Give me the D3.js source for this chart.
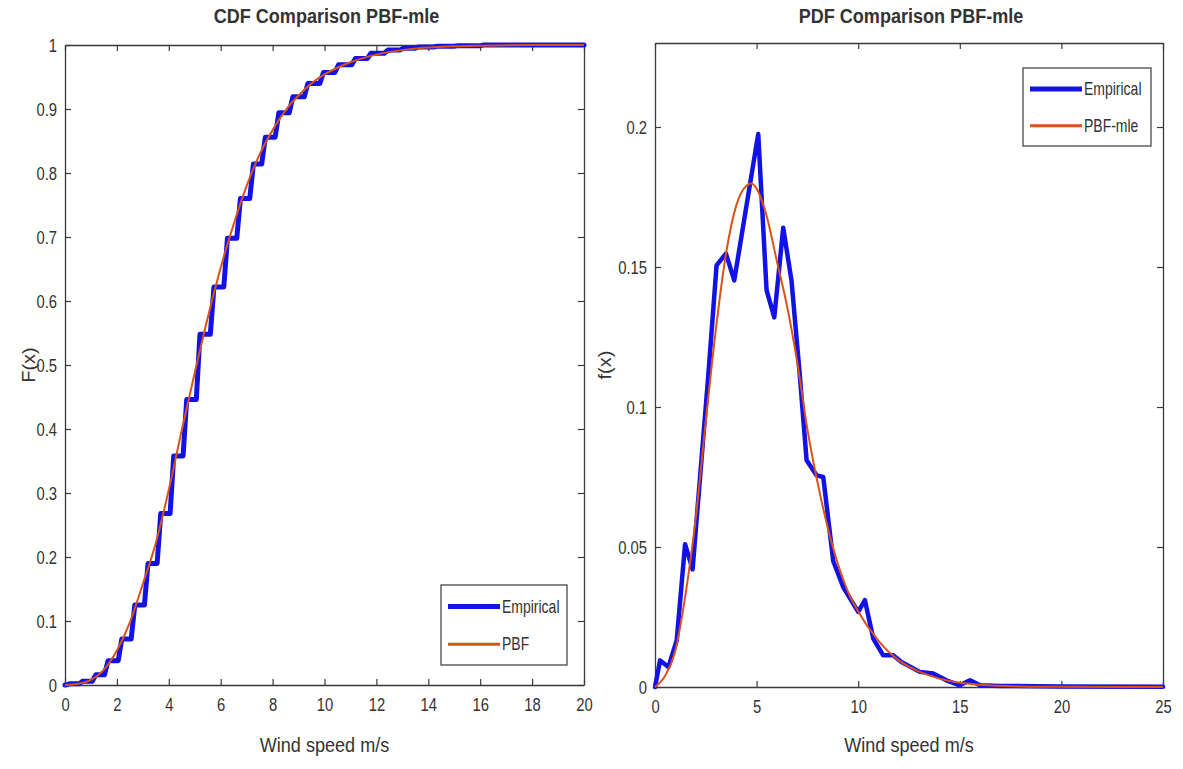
<!DOCTYPE html>
<html>
<head>
<meta charset="utf-8">
<script src="https://cdn.jsdelivr.net/npm/d3@7"></script>
<style>
  html, body { margin: 0; padding: 0; background: #fff; }
  svg { display: block; }
  text { font-family: "Liberation Sans", Arial, Helvetica, sans-serif; fill: #333; }
</style>
</head>
<body>
<svg id="chart" width="1183" height="769"></svg>
<script>
// Empirical CDF: wind speed where each step occurs and the level reached after it
const cdfStepX = [0.05, 0.55, 1.05, 1.52, 2.05, 2.55, 3.06, 3.55, 4.05, 4.55, 5.06, 5.60, 6.12, 6.62, 7.12, 7.58, 8.10, 8.64, 9.22, 9.82, 10.40, 11.05, 11.65, 12.30, 12.90, 13.50, 14.20, 15.00, 16.00];
const cdfStepF = [0.002, 0.006, 0.016, 0.038, 0.072, 0.125, 0.190, 0.268, 0.358, 0.446, 0.548, 0.622, 0.698, 0.760, 0.814, 0.856, 0.894, 0.919, 0.940, 0.957, 0.969, 0.979, 0.987, 0.992, 0.995, 0.997, 0.998, 0.999, 1.000];

// Fitted PBF CDF
const pbfCdfX = [0, 0.5, 1, 1.5, 2, 2.5, 3, 3.5, 4, 4.5, 5, 5.5, 6, 6.5, 7, 7.5, 8, 8.5, 9, 9.5, 10, 11, 12, 13, 14, 15, 16, 18, 20];
const pbfCdfF = [0, 0.002, 0.008, 0.024, 0.054, 0.098, 0.158, 0.222, 0.305, 0.398, 0.488, 0.574, 0.652, 0.720, 0.780, 0.829, 0.867, 0.898, 0.921, 0.940, 0.954, 0.973, 0.985, 0.992, 0.996, 0.998, 0.999, 1.000, 1.000];

// Empirical PDF
const empPdfX = [0, 0.25, 0.66, 1.07, 1.48, 1.85, 2.62, 3.03, 3.49, 3.90, 5.08, 5.49, 5.87, 6.31, 6.72, 7.13, 7.46, 7.95, 8.28, 8.77, 9.26, 10.0, 10.33, 10.74, 11.23, 11.72, 12.13, 13.03, 13.69, 14.34, 15.0, 15.5, 16.0, 17.0, 20.0, 25.0];
const empPdfY = [0, 0.0095, 0.0071, 0.0167, 0.051, 0.042, 0.111, 0.1506, 0.1548, 0.1452, 0.1975, 0.1417, 0.132, 0.164, 0.145, 0.111, 0.081, 0.0756, 0.075, 0.045, 0.0357, 0.0268, 0.031, 0.0173, 0.0113, 0.0113, 0.0089, 0.0054, 0.0048, 0.0024, 0.0006, 0.0024, 0.0006, 0.0004, 0.0002, 0.0001];

// Fitted PBF-mle PDF
const pbfPdfX = [0, 0.5, 1, 1.5, 2, 2.5, 3, 3.5, 4, 4.5, 4.75, 5, 5.5, 6, 6.5, 7, 7.5, 8, 8.5, 9, 9.5, 10, 11, 12, 13, 14, 15, 16, 18, 20, 25];
const pbfPdfY = [0, 0.004, 0.013, 0.033, 0.060, 0.095, 0.128, 0.155, 0.172, 0.179, 0.1798, 0.178, 0.168, 0.152, 0.136, 0.116, 0.092, 0.073, 0.057, 0.044, 0.034, 0.027, 0.0165, 0.0095, 0.0055, 0.003, 0.0015, 0.0008, 0.0002, 0.00005, 0];

// Tick values
const cdfXTicks = [0, 2, 4, 6, 8, 10, 12, 14, 16, 18, 20];
const cdfYTicks = [0, 0.1, 0.2, 0.3, 0.4, 0.5, 0.6, 0.7, 0.8, 0.9, 1];
const pdfXTicks = [0, 5, 10, 15, 20, 25];
const pdfYTicks = [0, 0.05, 0.1, 0.15, 0.2];

const BLUE = "#1212e6";
const ORANGE = "#D95319";
const AXIS = "#3a3a3a";

const svg = d3.select("#chart");
svg.append("rect").attr("width", 1183).attr("height", 769).attr("fill", "#fff");

const fmt = d3.format("~g");

function drawPanel(cfg) {
  const g = svg.append("g");
  const x = d3.scaleLinear().domain(cfg.xDomain).range([cfg.left, cfg.right]);
  const y = d3.scaleLinear().domain(cfg.yDomain).range([cfg.bottom, cfg.top]);

  const styleAxis = sel => {
    sel.selectAll("path.domain").attr("stroke", AXIS).attr("stroke-width", 1.3);
    sel.selectAll(".tick line").attr("stroke", AXIS).attr("stroke-width", 1.2);
    sel.selectAll(".tick text")
      .attr("fill", "#3a3a3a")
      .style("font-size", "19px")
      .style("font-family", '"Liberation Sans", Arial, sans-serif');
  };

  g.append("g").attr("transform", `translate(0,${cfg.bottom})`)
    .call(d3.axisBottom(x).tickValues(cfg.xTicks).tickFormat(fmt).tickSizeInner(-6).tickSizeOuter(0).tickPadding(13))
    .call(styleAxis);
  g.append("g").attr("transform", `translate(0,${cfg.top})`)
    .call(d3.axisTop(x).tickValues(cfg.xTicks).tickFormat("").tickSizeInner(-6).tickSizeOuter(0))
    .call(styleAxis);
  g.append("g").attr("transform", `translate(${cfg.left},0)`)
    .call(d3.axisLeft(y).tickValues(cfg.yTicks).tickFormat(fmt).tickSizeInner(-6).tickSizeOuter(0).tickPadding(8))
    .call(styleAxis);
  g.append("g").attr("transform", `translate(${cfg.right},0)`)
    .call(d3.axisRight(y).tickValues(cfg.yTicks).tickFormat("").tickSizeInner(-6).tickSizeOuter(0))
    .call(styleAxis);

  // narrow the tick labels
  const sx = 0.78;
  g.selectAll(".tick text").each(function () {
    const t = d3.select(this);
    const xa = +t.attr("x") || 0;
    t.attr("transform", `scale(${sx},1)`).attr("x", xa / sx);
  });

  const plot = g.append("g");
  plot.append("path").datum(cfg.empirical)
    .attr("d", d3.line().x(d => x(d[0])).y(d => y(d[1])).curve(d3.curveLinear))
    .attr("fill", "none").attr("stroke", BLUE).attr("stroke-width", cfg.blueWidth)
    .attr("stroke-linejoin", "round").attr("stroke-linecap", "round");
  plot.append("path").datum(cfg.fitted)
    .attr("d", d3.line().x(d => x(d[0])).y(d => y(d[1])).curve(d3.curveMonotoneX))
    .attr("fill", "none").attr("stroke", ORANGE).attr("stroke-width", 2)
    .attr("stroke-linejoin", "round");

  // title
  const cx = (cfg.left + cfg.right) / 2;
  g.append("text").attr("transform", `translate(${cx + 2},23) scale(0.86,1)`)
    .attr("text-anchor", "middle").style("font-size", "21px").style("font-weight", "bold")
    .attr("fill", "#222").text(cfg.title);
  // x label
  g.append("text").attr("transform", `translate(${cx},752) scale(0.86,1)`)
    .attr("text-anchor", "middle").style("font-size", "21px").attr("fill", "#3a3a3a")
    .text("Wind speed m/s");
  // y label
  g.append("text").attr("transform", `translate(${cfg.yLabelX},${(cfg.top + cfg.bottom) / 2}) rotate(-90) scale(1,0.9)`)
    .attr("text-anchor", "middle").style("font-size", "20px").attr("fill", "#3a3a3a")
    .text(cfg.yLabel);

  // legend
  const L = cfg.legend;
  const lg = g.append("g");
  lg.append("rect").attr("x", L.x).attr("y", L.y).attr("width", L.w).attr("height", L.h)
    .attr("fill", "#fff").attr("stroke", AXIS).attr("stroke-width", 1.2);
  const rows = [
    { label: "Empirical", color: BLUE, width: 5 },
    { label: cfg.fitLabel, color: ORANGE, width: 3 }
  ];
  rows.forEach((r, i) => {
    const yy = L.y + L.h * (0.27 + 0.47 * i);
    lg.append("line").attr("x1", L.x + 7).attr("x2", L.x + 59).attr("y1", yy).attr("y2", yy)
      .attr("stroke", r.color).attr("stroke-width", r.width);
    lg.append("text").attr("transform", `translate(${L.x + 61},${yy + 6}) scale(0.8,1)`)
      .style("font-size", "17.5px").attr("fill", "#3a3a3a").text(r.label);
  });
}

// Empirical CDF path: plateau, then a short rise at each step
const rise = 0.14;
const empCdf = [[0, 0]];
let prevF = 0;
cdfStepX.forEach((sx, i) => {
  empCdf.push([sx, prevF]);
  empCdf.push([sx + rise, cdfStepF[i]]);
  prevF = cdfStepF[i];
});
empCdf.push([20, prevF]);

drawPanel({
  left: 65, right: 584, top: 45, bottom: 685,
  xDomain: [0, 20], yDomain: [0, 1],
  xTicks: cdfXTicks, yTicks: cdfYTicks,
  empirical: empCdf,
  fitted: pbfCdfX.map((v, i) => [v, pbfCdfF[i]]),
  blueWidth: 5,
  title: "CDF Comparison PBF-mle",
  yLabel: "F(x)", yLabelX: 35,
  fitLabel: "PBF",
  legend: { x: 441, y: 585, w: 126, h: 80 }
});

drawPanel({
  left: 655, right: 1163, top: 43, bottom: 687,
  xDomain: [0, 25], yDomain: [0, 0.23],
  xTicks: pdfXTicks, yTicks: pdfYTicks,
  empirical: empPdfX.map((v, i) => [v, empPdfY[i]]),
  fitted: pbfPdfX.map((v, i) => [v, pbfPdfY[i]]),
  blueWidth: 4.5,
  title: "PDF Comparison PBF-mle",
  yLabel: "f(x)", yLabelX: 611,
  fitLabel: "PBF-mle",
  legend: { x: 1023, y: 68, w: 128, h: 78 }
});
</script>
</body>
</html>
